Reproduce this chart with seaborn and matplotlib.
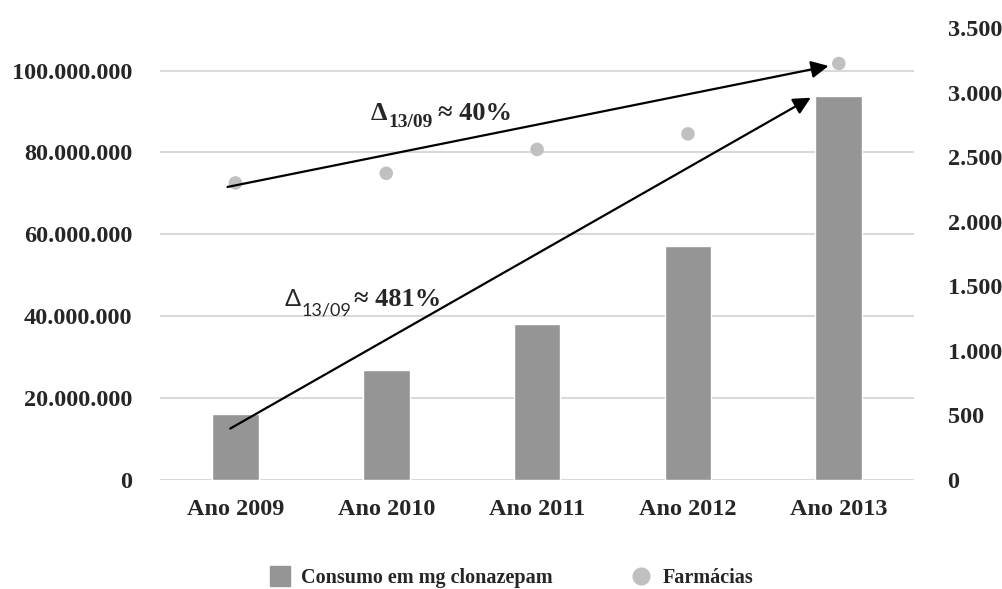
import pandas as pd
import seaborn as sns
import numpy as np
import matplotlib.pyplot as plt
from matplotlib.lines import Line2D

anos = ["Ano 2009", "Ano 2010", "Ano 2011", "Ano 2012", "Ano 2013"]
consumo = [16.1e6, 26.9e6, 38.1e6, 57.2e6, 93.7e6]
farmacias = [2300, 2375, 2560, 2680, 3225]
left_ticks = [0, 20e6, 40e6, 60e6, 80e6, 100e6]
right_ticks = [0, 500, 1000, 1500, 2000, 2500, 3000, 3500]

df = pd.DataFrame({"ano": anos, "consumo": consumo, "farmacias": farmacias})

sns.set_style("white")
plt.rcParams["font.family"] = ["Liberation Serif", "DejaVu Serif"]
plt.rcParams["font.weight"] = "bold"

bar_color = "#959595"
dot_color = "#c0c0c0"
W, H = 1003, 589

fig = plt.figure(figsize=(10.03, 5.89), dpi=100)
ax = fig.add_axes([0.1595, 0.185, 0.752, 0.7675])
sns.barplot(data=df, x="ano", y="consumo", color=bar_color, saturation=1,
            width=0.31, ax=ax, zorder=2)
ax.set_xlim(-0.5, 4.5)
ax.set_ylim(0, 110.4e6)
ax.set_yticks(left_ticks)
ax.set_yticklabels(["{:,.0f}".format(v).replace(",", ".") for v in left_ticks])
ax.yaxis.grid(True, color="#d9d9d9", lw=1.5, zorder=0)
ax.set_axisbelow(True)
ax.set_xlabel("")
ax.set_ylabel("")
ax.tick_params(axis="both", length=0, labelsize=17.5)
ax.tick_params(axis="x", pad=14)
ax.tick_params(axis="y", pad=20)
for s in ax.spines.values():
    s.set_visible(False)

ax2 = ax.twinx()
sns.scatterplot(data=df, x="ano", y="farmacias", color=dot_color, s=95,
                edgecolor="none", ax=ax2, zorder=3)
ax2.set_ylim(0, 3500)
ax2.set_yticks(right_ticks)
ax2.set_yticklabels(["{:,.0f}".format(v).replace(",", ".") for v in right_ticks])
ax2.set_ylabel("")
ax2.tick_params(axis="y", length=0, labelsize=17.5, pad=24)
for s in ax2.spines.values():
    s.set_visible(False)

arrow = dict(arrowstyle="-|>", lw=1.6, color="black", mutation_scale=26)
ax2.annotate("", xy=(4 - 0.05, farmacias[4] - 15), xytext=(-0.07, farmacias[0] - 35),
             arrowprops=arrow, zorder=5)
ax2.annotate("", xy=(4 - 0.17, consumo[4] * 1.0), xytext=(-0.05, consumo[0] * 0.76),
             arrowprops=arrow, xycoords=ax.transData, textcoords=ax.transData, zorder=5)


def txt(x, y, s, **kw):
    fig.text(x / W, 1 - y / H, s, ha="left", va="baseline", **kw)


# Δ13/09 ≈ 40%
txt(371, 120, "Δ", fontsize=19, fontweight="bold")
txt(388, 127, "13/09", fontsize=14, fontweight="bold")
txt(438, 120, "≈ 40%", fontsize=19, fontweight="bold")

# Δ13/09 ≈ 481%
txt(285, 306, "Δ", fontsize=17, fontweight="normal", family="Lato")
txt(302, 315, "13/09", fontsize=13, fontweight="normal", family="Lato")
txt(354, 306, "≈ 481%", fontsize=19, fontweight="bold")

handles = [
    Line2D([], [], marker="s", ls="", color=bar_color, markersize=14),
    Line2D([], [], marker="o", ls="", color=dot_color, markersize=12),
]
fig.legend(handles, ["Consumo em mg clonazepam", "Farmácias"], loc="center",
           bbox_to_anchor=(0.505, 0.019), ncol=2, frameon=False, fontsize=14.5,
           columnspacing=3.4, handletextpad=0.05)

fig.savefig("out.png", dpi=100)
